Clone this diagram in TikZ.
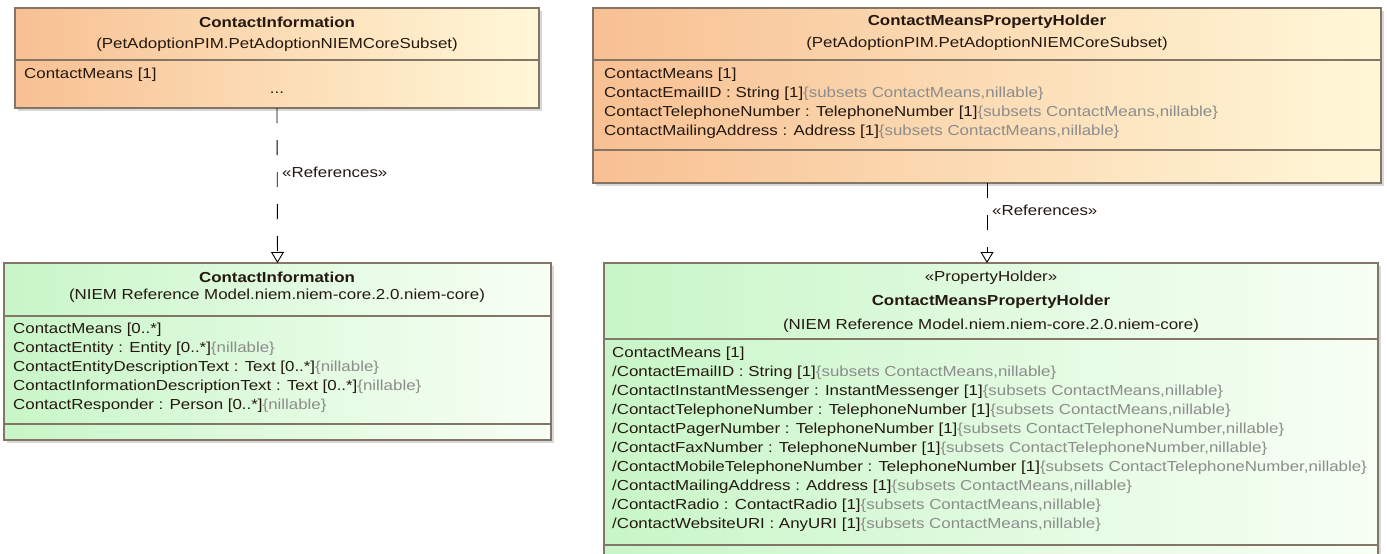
\documentclass[tikz,border=0pt]{standalone}
\usepackage{fontspec}
\setmainfont{Liberation Sans}[FakeStretch=1.165]
\usetikzlibrary{arrows.meta,shadows}

\definecolor{pimleft}{RGB}{248,192,146}
\definecolor{pimright}{RGB}{255,248,216}
\definecolor{niemleft}{RGB}{200,246,200}
\definecolor{niemright}{RGB}{248,255,245}
\definecolor{edgebrown}{RGB}{132,118,102}
\definecolor{constrgray}{RGB}{140,140,140}
\definecolor{txtdark}{RGB}{36,24,16}
\newcommand{\constr}[1]{\textcolor{constrgray}{\{#1\}}}

\begin{document}
\begin{tikzpicture}[x=1pt,y=-1pt,
  classbox/.style={draw=edgebrown,line width=1.4pt,inner sep=0pt,outer sep=0pt,
    drop shadow={shadow xshift=3pt,shadow yshift=-3pt,fill=black!30}},
  pim/.style={classbox,left color=pimleft,right color=pimright},
  niem/.style={classbox,left color=niemleft,right color=niemright},
  txt/.style={font=\fontsize{14.5}{19}\selectfont,text=txtdark,inner sep=0pt},
  attr/.style={txt,anchor=west},
  sep/.style={draw=edgebrown,line width=1.4pt},
  refline/.style={draw=black,line width=0.9pt,dash pattern=on 15pt off 17pt,
    -{Triangle[open,length=11pt,width=13pt]}}]
  \useasboundingbox (0,0) rectangle (1387,554);

  % class boxes
  \node[pim,minimum width=524pt,minimum height=100pt] (pimci) at (277,58) {};
  \node[pim,minimum width=788pt,minimum height=175pt] (pimcm) at (987,95.5) {};
  \node[niem,minimum width=547pt,minimum height=177pt] (niemci) at (277.5,351.5) {};
  \node[niem,minimum width=774pt,minimum height=302pt] (niemcm) at (991,414) {};

  % compartments
  \draw[sep] (pimci.west |- 0,60) -- (pimci.east |- 0,60);
  \draw[sep] (pimcm.west |- 0,60) -- (pimcm.east |- 0,60);
  \draw[sep] (pimcm.west |- 0,150) -- (pimcm.east |- 0,150);
  \draw[sep] (niemci.west |- 0,316) -- (niemci.east |- 0,316);
  \draw[sep] (niemci.west |- 0,424) -- (niemci.east |- 0,424);
  \draw[sep] (niemcm.west |- 0,339) -- (niemcm.east |- 0,339);
  \draw[sep] (niemcm.west |- 0,545) -- (niemcm.east |- 0,545);

  % top left
  \node[txt,font=\fontsize{14.5}{19}\selectfont\bfseries] (pimcititle) at (277,22) {ContactInformation};
  \node[txt] (pimcipkg) at (277,45) {(PetAdoptionPIM.PetAdoptionNIEMCoreSubset)};
  \node[attr] (pimciattr) at (24,75) {ContactMeans [1]};
  \node[txt] (pimcimore) at (277,93) {...};

  % top right
  \node[txt,font=\fontsize{14.5}{19}\selectfont\bfseries] (pimcmtitle) at (987,22) {ContactMeansPropertyHolder};
  \node[txt] (pimcmpkg) at (987,44) {(PetAdoptionPIM.PetAdoptionNIEMCoreSubset)};
  \foreach \t [count=\i from 0] in {
    {ContactMeans [1]},
    {ContactEmailID : String [1]\constr{subsets ContactMeans,nillable}},
    {ContactTelephoneNumber : TelephoneNumber [1]\constr{subsets ContactMeans,nillable}},
    {ContactMailingAddress : Address [1]\constr{subsets ContactMeans,nillable}}}
    \node[attr] (pimcmattr\i) at (604,75+19*\i) {\t};

  % bottom left
  \node[txt,font=\fontsize{14.5}{19}\selectfont\bfseries] (niemcititle) at (277,277) {ContactInformation};
  \node[txt] (niemcipkg) at (277,296) {(NIEM Reference Model.niem.niem-core.2.0.niem-core)};
  \foreach \t [count=\i from 0] in {
    {ContactMeans [0..*]},
    {ContactEntity : Entity [0..*]\constr{nillable}},
    {ContactEntityDescriptionText : Text [0..*]\constr{nillable}},
    {ContactInformationDescriptionText : Text [0..*]\constr{nillable}},
    {ContactResponder : Person [0..*]\constr{nillable}}}
    \node[attr] (niemciattr\i) at (13,330+19*\i) {\t};

  % bottom right
  \node[txt] (niemcmstereo) at (991,278) {«PropertyHolder»};
  \node[txt,font=\fontsize{14.5}{19}\selectfont\bfseries] (niemcmtitle) at (991,302) {ContactMeansPropertyHolder};
  \node[txt] (niemcmpkg) at (991,326) {(NIEM Reference Model.niem.niem-core.2.0.niem-core)};
  \foreach \t [count=\i from 0] in {
    {ContactMeans [1]},
    {/ContactEmailID : String [1]\constr{subsets ContactMeans,nillable}},
    {/ContactInstantMessenger : InstantMessenger [1]\constr{subsets ContactMeans,nillable}},
    {/ContactTelephoneNumber : TelephoneNumber [1]\constr{subsets ContactMeans,nillable}},
    {/ContactPagerNumber : TelephoneNumber [1]\constr{subsets ContactTelephoneNumber,nillable}},
    {/ContactFaxNumber : TelephoneNumber [1]\constr{subsets ContactTelephoneNumber,nillable}},
    {/ContactMobileTelephoneNumber : TelephoneNumber [1]\constr{subsets ContactTelephoneNumber,nillable}},
    {/ContactMailingAddress : Address [1]\constr{subsets ContactMeans,nillable}},
    {/ContactRadio : ContactRadio [1]\constr{subsets ContactMeans,nillable}},
    {/ContactWebsiteURI : AnyURI [1]\constr{subsets ContactMeans,nillable}}}
    \node[attr] (niemcmattr\i) at (612,354+19*\i) {\t};

  % references
  \draw[refline] (pimci.south) -- (niemci.north);
  \node[attr] (refleft) at (282,172) {«References»};
  \draw[refline] (pimcm.south) -- (pimcm.south |- niemcm.north);
  \node[attr] (refright) at (992,210) {«References»};
\end{tikzpicture}
\end{document}
